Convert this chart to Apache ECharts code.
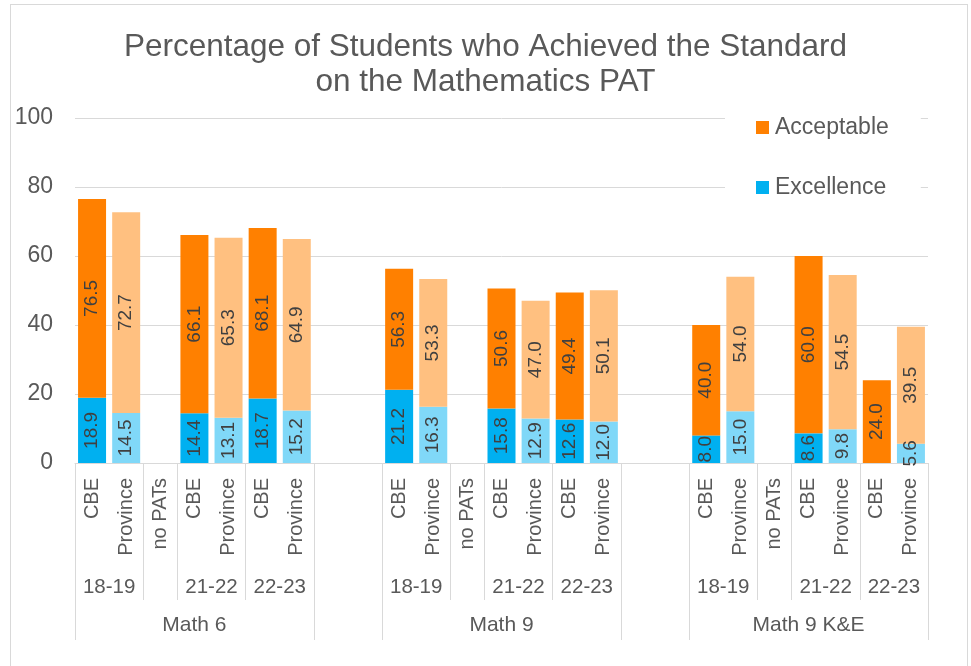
<!DOCTYPE html>
<html>
<head>
<meta charset="utf-8">
<title>Mathematics PAT</title>
<script src="https://cdn.jsdelivr.net/npm/echarts@6/dist/echarts.min.js"></script>
<style>
html, body { margin: 0; padding: 0; background: #fff; overflow: hidden; }
#frame { position: absolute; left: 10px; top: 4px; width: 958px; height: 700px; border: 1px solid #D9D9D9; box-sizing: border-box; }
#chart { position: absolute; left: 0; top: 0; width: 971px; height: 666px; }
</style>
</head>
<body>
<div id="frame"></div>
<div id="chart"></div>
<script>
const groupNames = ['Math 6', 'Math 9', 'Math 9 K&E']
const subCategories = ['CBE', 'Province', 'no PATs', 'CBE', 'Province', 'CBE', 'Province']
const schoolYears = ['18-19', '18-19', '', '21-22', '21-22', '22-23', '22-23']
const acceptableMath6 = [76.5, 72.7, null, 66.1, 65.3, 68.1, 64.9]
const acceptableMath9 = [56.3, 53.3, null, 50.6, 47.0, 49.4, 50.1]
const acceptableMath9KE = [40.0, 54.0, null, 60.0, 54.5, 24.0, 39.5]
const excellenceMath6 = [18.9, 14.5, null, 14.4, 13.1, 18.7, 15.2]
const excellenceMath9 = [21.2, 16.3, null, 15.8, 12.9, 12.6, 12.0]
const excellenceMath9KE = [8.0, 15.0, null, 8.6, 9.8, null, 5.6]
const yTicks = [0, 20, 40, 60, 80, 100]

const acceptableByGroup = [acceptableMath6, acceptableMath9, acceptableMath9KE]
const excellenceByGroup = [excellenceMath6, excellenceMath9, excellenceMath9KE]
const GAP = 2 // empty slots between groups

const colors = {
  accCBE: '#FF8000',
  accProv: '#FFC080',
  excCBE: '#00B0F0',
  excProv: '#80D8F8'
}
const textColor = '#595959'
const lineColor = '#D9D9D9'
const font = 'Liberation Sans, Arial, sans-serif'

// flatten groups into one category axis
const cats = []
const yearSlots = []
const groupSlots = []
const acc = []
const exc = []
groupNames.forEach(function(g, gi) {
  if (gi > 0) {
    for (let k = 0; k < GAP; k++) {
      cats.push('')
      yearSlots.push(null)
      groupSlots.push(null)
      acc.push(null)
      exc.push(null)
    }
  }
  subCategories.forEach(function(c, ci) {
    cats.push(c)
    yearSlots.push(gi + ':' + schoolYears[ci])
    groupSlots.push(gi)
    acc.push(acceptableByGroup[gi][ci])
    exc.push(excellenceByGroup[gi][ci])
  })
})

// label centres (in category units) for years and groups
const yearLabelAt = {}
const groupLabelAt = {}
function collectRuns(slots, out, nameOf) {
  let start = 0
  for (let i = 1; i <= slots.length; i++) {
    if (i === slots.length || slots[i] !== slots[start]) {
      const name = slots[start] == null ? '' : nameOf(slots[start])
      if (name) out[(start + i) / 2] = name
      start = i
    }
  }
}
collectRuns(yearSlots, yearLabelAt, function(s) { return s.split(':')[1] })
collectRuns(groupSlots, groupLabelAt, function(s) { return groupNames[s] })

function isYearEdge(i) { return i === 0 || yearSlots[i] !== yearSlots[i - 1] }
function isGroupEdge(i) { return i === 0 || groupSlots[i] !== groupSlots[i - 1] }

// acceptable includes excellence: stack the part above excellence
function barData(values, cbeColor, provColor) {
  return values.map(function(v, i) {
    if (v == null) return '-'
    return { value: v, itemStyle: { color: cats[i] === 'CBE' ? cbeColor : provColor } }
  })
}
const accAbove = acc.map(function(v, i) {
  if (v == null) return null
  return +(v - (exc[i] || 0)).toFixed(1)
})

function valueLabel(source) {
  return {
    show: true,
    position: 'inside',
    rotate: 90,
    fontSize: 19,
    fontFamily: font,
    color: '#404040',
    formatter: function(p) { return source[p.dataIndex].toFixed(1) }
  }
}

const chart = echarts.init(document.getElementById('chart'))
chart.setOption({
  animation: false,
  backgroundColor: 'transparent',
  title: {
    text: 'Percentage of Students who Achieved the Standard\non the Mathematics PAT',
    left: 'center',
    top: 25,
    textStyle: {
      fontSize: 31.5,
      fontWeight: 'normal',
      color: textColor,
      fontFamily: font,
      lineHeight: 35
    }
  },
  legend: {
    data: ['Acceptable', 'Excellence'],
    orient: 'vertical',
    left: 725,
    top: 104,
    padding: [12, 32, 12, 31],
    backgroundColor: '#fff',
    icon: 'rect',
    itemWidth: 13,
    itemHeight: 13,
    itemGap: 37,
    selectedMode: false,
    textStyle: {
      fontSize: 23,
      color: textColor,
      fontFamily: font,
      lineHeight: 23,
      padding: [0, 0, 0, 1]
    }
  },
  grid: {
    left: 75,
    right: 43,
    top: 118,
    bottom: 203
  },
  xAxis: [
    {
      type: 'category',
      data: cats,
      position: 'bottom',
      axisLine: { show: true, lineStyle: { color: lineColor, width: 1 } },
      axisTick: {
        show: true,
        length: 137,
        interval: function(i) { return isYearEdge(i) },
        lineStyle: { color: lineColor, width: 1 }
      },
      axisLabel: {
        interval: 0,
        rotate: 90,
        margin: 15,
        fontSize: 20,
        color: textColor,
        fontFamily: font
      }
    },
    {
      type: 'category',
      data: cats,
      position: 'bottom',
      axisLine: { show: false },
      axisTick: {
        show: true,
        length: 177,
        interval: function(i) { return isGroupEdge(i) },
        lineStyle: { color: lineColor, width: 1 }
      },
      axisLabel: { show: false }
    },
    {
      type: 'value',
      position: 'bottom',
      min: 0,
      max: cats.length,
      interval: 0.5,
      axisLine: { show: false },
      axisTick: { show: false },
      splitLine: { show: false },
      axisLabel: {
        margin: 114,
        fontSize: 20.5,
        color: textColor,
        fontFamily: font,
        formatter: function(v) { return yearLabelAt[Math.round(v * 2) / 2] || '' }
      }
    },
    {
      type: 'value',
      position: 'bottom',
      min: 0,
      max: cats.length,
      interval: 0.5,
      axisLine: { show: false },
      axisTick: { show: false },
      splitLine: { show: false },
      axisLabel: {
        margin: 152,
        fontSize: 21,
        color: textColor,
        fontFamily: font,
        formatter: function(v) { return groupLabelAt[Math.round(v * 2) / 2] || '' }
      }
    }
  ],
  yAxis: {
    type: 'value',
    min: yTicks[0],
    max: yTicks[yTicks.length - 1],
    interval: yTicks[1] - yTicks[0],
    axisLine: { show: false },
    axisTick: { show: false },
    axisLabel: {
      margin: 22,
      fontSize: 23,
      color: textColor,
      fontFamily: font
    },
    splitLine: { lineStyle: { color: lineColor, width: 1 } }
  },
  series: [
    {
      name: 'Excellence',
      type: 'bar',
      xAxisIndex: 0,
      stack: 'pat',
      barWidth: 28,
      itemStyle: { color: colors.excCBE },
      label: valueLabel(exc),
      data: barData(exc, colors.excCBE, colors.excProv)
    },
    {
      name: 'Acceptable',
      type: 'bar',
      xAxisIndex: 0,
      stack: 'pat',
      barWidth: 28,
      itemStyle: { color: colors.accCBE },
      label: valueLabel(acc),
      data: barData(accAbove, colors.accCBE, colors.accProv)
    }
  ]
})
</script>
</body>
</html>
